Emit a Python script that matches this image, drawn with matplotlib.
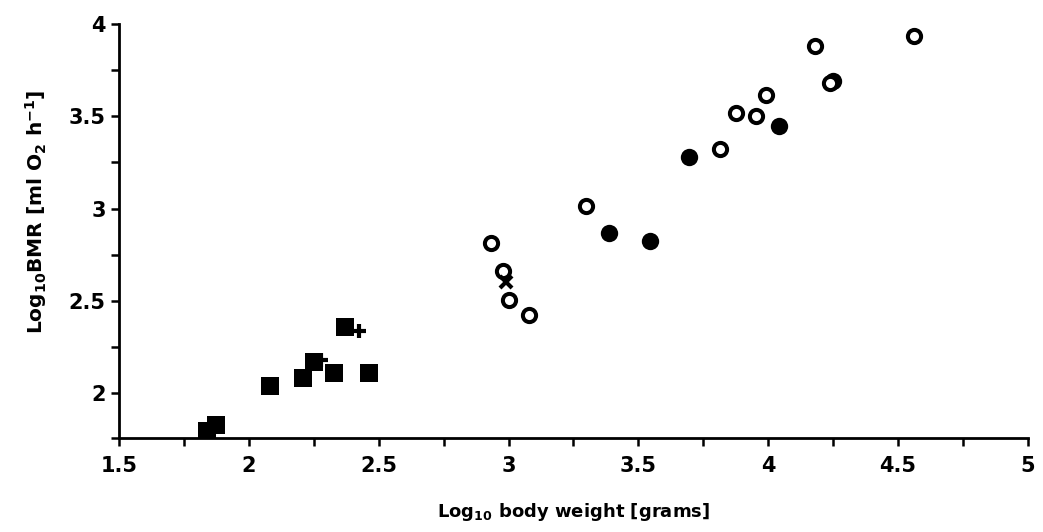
import matplotlib.pyplot as plt
import matplotlib.ticker as mticker

plt.rcParams['font.family'] = 'DejaVu Sans'
plt.rcParams['font.weight'] = 'bold'
plt.rcParams['mathtext.default'] = 'bf'

# filled squares
sq_x = [1.839, 1.873, 2.081, 2.209, 2.250, 2.328, 2.463, 2.370]
sq_y = [1.795, 1.830, 2.037, 2.081, 2.168, 2.108, 2.108, 2.357]

# plus signs
plus_x = [2.280, 2.424]
plus_y = [2.180, 2.335]

# open circles
oc_x = [2.932, 2.979, 3.002, 3.079, 3.298, 3.814, 3.876, 3.953, 3.991, 4.180, 4.238, 4.561]
oc_y = [2.811, 2.659, 2.503, 2.422, 3.016, 3.324, 3.519, 3.503, 3.616, 3.881, 3.681, 3.935]

# filled circles
fc_x = [3.387, 3.545, 3.695, 4.041, 4.249]
fc_y = [2.865, 2.822, 3.281, 3.449, 3.692]

# cross
cr_x = [2.990]
cr_y = [2.600]

fig = plt.figure(figsize=(10.43, 5.32), dpi=100)
ax = fig.add_axes([0.114, 0.1767, 0.8716, 0.7783])

ax.plot(sq_x, sq_y, 's', color='black', ms=12.5, mew=0)
ax.plot(plus_x, plus_y, '+', color='black', ms=10, mew=3)
ax.plot(fc_x, fc_y, 'o', color='black', ms=12.5, mew=0)
ax.plot(oc_x, oc_y, 'o', mfc='white', mec='black', ms=9.5, mew=2.9)
ax.plot(cr_x, cr_y, 'x', color='black', ms=9, mew=3)

ax.set_xlim(1.5, 5)
ax.set_ylim(1.757, 4)

ax.spines['top'].set_visible(False)
ax.spines['right'].set_visible(False)
ax.spines['left'].set_linewidth(2)
ax.spines['bottom'].set_linewidth(2)

ax.xaxis.set_major_locator(mticker.MultipleLocator(0.5))
ax.xaxis.set_minor_locator(mticker.MultipleLocator(0.25))
ax.yaxis.set_major_locator(mticker.FixedLocator([2, 2.5, 3, 3.5, 4]))
ax.yaxis.set_minor_locator(mticker.FixedLocator([1.757, 2.25, 2.75, 3.25, 3.75]))
ax.xaxis.set_major_formatter(mticker.FormatStrFormatter('%g'))
ax.yaxis.set_major_formatter(mticker.FormatStrFormatter('%g'))

ax.tick_params(which='both', direction='out', length=6, width=1.8, labelsize=15)
ax.tick_params(axis='x', pad=7)

ax.set_xlabel(r'Log$_{10}$ body weight [grams]', fontsize=13, fontweight='bold', labelpad=18)
ax.set_ylabel(r'Log$_{10}$BMR [ml O$_2$ h$^{-1}$]', fontsize=14.5, fontweight='bold')
ax.yaxis.set_label_coords(-0.077, 0.546)

fig.savefig('out.png', dpi=100)
